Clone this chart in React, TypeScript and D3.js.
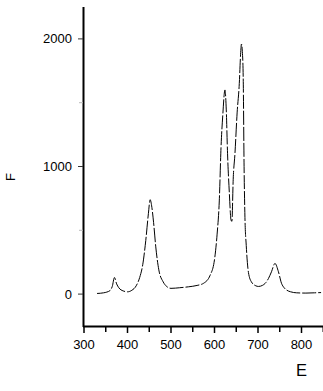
import React from "react";
import * as d3 from "d3";

const wavelengths = [330,345,360,365,370,375,380,390,400,410,420,428,435,442,448,452,456,460,465,472,482,490,500,520,540,560,575,590,600,606,611,615,619,624,627,630,634,638,640,643,647,652,657,660,662,664,666,668,670,673,678,685,695,701,710,718,724,731,739,747,754,760,766,775,789,810,830,845];
const intensities = [5,10,28,60,130,80,50,25,18,30,65,130,230,420,630,740,680,560,370,190,96,60,45,50,57,68,85,148,270,470,730,1150,1400,1600,1450,1100,800,580,570,900,1100,1420,1650,1880,1960,1900,1700,1000,600,380,170,95,65,60,68,90,122,175,240,175,85,50,31,18,10,8,10,12];
const xMajorTicks = [300,400,500,600,700,800];
const xMinorTicks = [350,450,550,650,750,850];
const yMajorTicks = [0,1000,2000];
const yMinorTicks = [500,1500];
const xTitle = "E";
const yTitle = "F";

export default function App() {
  const W = 323, H = 391;
  const x = d3.scaleLinear().domain([300, 850]).range([84, 323.25]);
  const y = d3.scaleLinear().domain([-250, 2250]).range([326, 7]);
  const pts: [number, number][] = wavelengths.map((w, i) => [w, intensities[i]]);
  const line = d3.line<[number, number]>().x(d => x(d[0])).y(d => y(d[1])).curve(d3.curveMonotoneX);
  const font = "'Liberation Sans', Arial, sans-serif";
  return (
    <svg width={W} height={H} style={{ position: "absolute", left: 0, top: 0, background: "#fff" }}>
      <rect x={0} y={0} width={W} height={H} fill="#fff" />
      <path d={line(pts) || ""} fill="none" stroke="#000" strokeWidth={1} strokeDasharray="14,2" />
      {/* y axis */}
      <line x1={83.5} x2={83.5} y1={y(2250)} y2={327} stroke="#000" strokeWidth={2} />
      {yMajorTicks.map(t => (
        <g key={"ym" + t}>
          <line x1={78} x2={83} y1={y(t)} y2={y(t)} stroke="#333" strokeWidth={1} />
          <text x={72} y={y(t)} dy="0.35em" textAnchor="end" fontFamily={font} fontSize={13} fill="#000">{t}</text>
        </g>
      ))}
      {yMinorTicks.map(t => (
        <line key={"yn" + t} x1={79} x2={83} y1={y(t)} y2={y(t)} stroke="#bbb" strokeWidth={1} />
      ))}
      {/* x axis */}
      <line x1={83} x2={323} y1={326.5} y2={326.5} stroke="#000" strokeWidth={2} />
      {xMajorTicks.map(t => (
        <g key={"xm" + t}>
          <line x1={x(t)} x2={x(t)} y1={327} y2={333} stroke="#000" strokeWidth={1.5} />
          <text x={x(t)} y={348.5} textAnchor="middle" fontFamily={font} fontSize={13} fill="#000">{t}</text>
        </g>
      ))}
      {xMinorTicks.map(t => (
        <line key={"xn" + t} x1={x(t)} x2={x(t)} y1={327} y2={332} stroke="#000" strokeWidth={1.5} />
      ))}
      <text x={301.5} y={376} textAnchor="middle" fontFamily={font} fontSize={16.5} fill="#000">{xTitle}</text>
      <text transform="translate(15,177) rotate(-90)" textAnchor="middle" fontFamily={font} fontSize={13} fill="#000">{yTitle}</text>
    </svg>
  );
}
